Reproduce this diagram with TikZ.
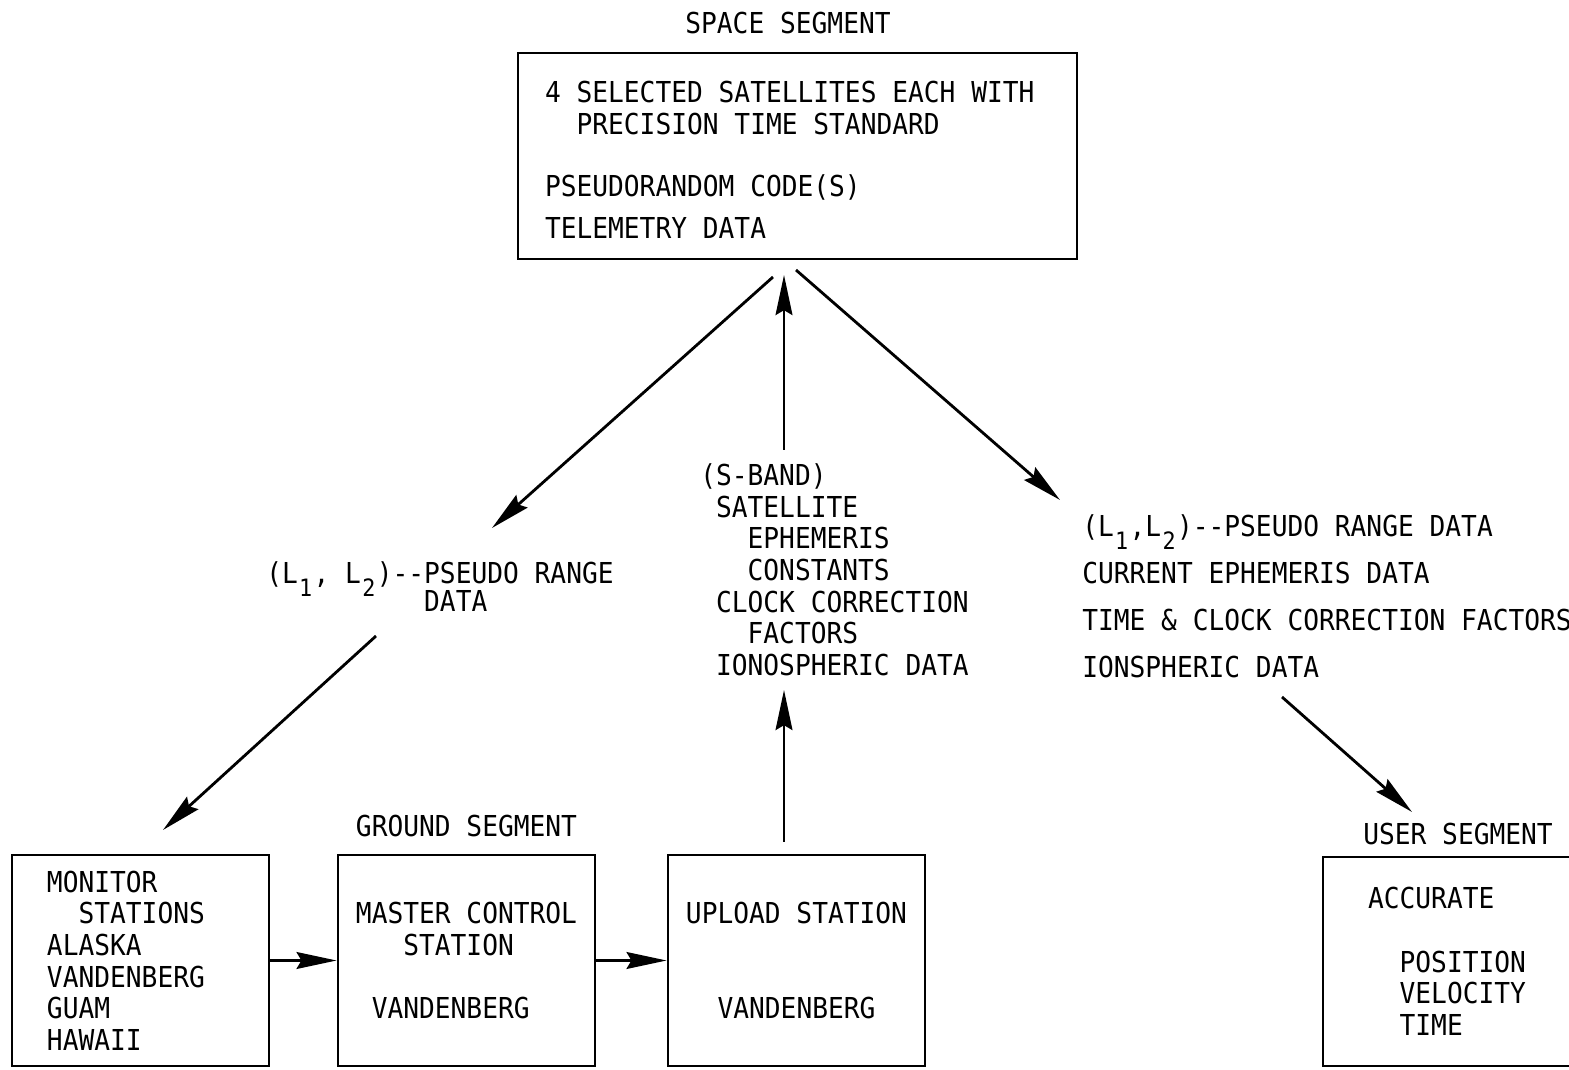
\documentclass[tikz,border=0pt]{standalone}
\usepackage{fontspec}
\setmainfont{DejaVu Sans Mono}[FakeStretch=0.91, WordSpace={1,0,0}]
\usepackage{tikz}
\usetikzlibrary{arrows.meta}

% lowered index that keeps the typewriter pitch
\newcommand{\lsub}[1]{\makebox[0.548em][c]{\raisebox{-0.45em}[0pt][0pt]{\fontsize{17}{17}\selectfont #1}}}

\tikzstyle{segment} = [rectangle, draw, line width=2pt, align=left,
    inner sep=0pt, minimum width=6.425cm, minimum height=5.275cm]
\tikzstyle{title} = [inner sep=0pt]
\tikzstyle{datalist} = [inner sep=0pt, align=left, anchor=north west]
\tikzstyle{line} = [draw, line width=2pt,
    -{Stealth[length=1cm, width=0.42cm, inset=0.12cm]}]

\begin{document}
\begin{tikzpicture}[node distance=8.15cm, font=\fontsize{20.5}{22.5}\selectfont]
    \clip (0,0) rectangle (39.225,26.725);

    % Segments
    \node [title] (spacetitle) at (19.7,26.15) {SPACE SEGMENT};
    \node [segment, align=flush left, minimum width=13.975cm, minimum height=5.15cm,
        inner xsep=0.675cm, text width=12.625cm] (space) at (19.9375,22.825)
        {\rule{0pt}{0.73cm}4 SELECTED SATELLITES EACH WITH\\ \phantom{00}PRECISION TIME STANDARD\\[0.7575cm]PSEUDORANDOM CODE(S)\\[0.2575cm]TELEMETRY DATA};

    \node [segment, inner xsep=0.875cm, text width=4.675cm] (monitor) at (3.5125,2.7125)
        {MONITOR\\ \phantom{00}STATIONS\\ ALASKA\\ VANDENBERG\\ GUAM\\ HAWAII};
    \node [segment, right of=monitor] (master)
        {MASTER CONTROL\\ \phantom{000}STATION\\[0.7925cm]\phantom{0}VANDENBERG};
    \node [segment, right of=master, node distance=8.25cm] (upload)
        {UPLOAD STATION\\[1.585cm]\phantom{00}VANDENBERG};
    \node [title, above of=master, node distance=3.3625cm] (groundtitle) {GROUND SEGMENT};

    \node [segment, minimum width=6.2cm, minimum height=5.225cm] (user) at (36.175,2.6875)
        {ACCURATE\\[0.7925cm]\phantom{00}POSITION\\ \phantom{00}VELOCITY\\ \phantom{00}TIME};
    \node [title] (usertitle) at (36.45,5.875) {USER SEGMENT};

    % Link data
    \node [datalist, font=\fontsize{20.5}{19.9}\selectfont] (pseudorange) at (6.65,12.6875)
        {(L\lsub{1}, L\lsub{2})-{}-PSEUDO RANGE\\ \phantom{0000000000}DATA};
    \node [datalist] (uplink) at (17.5,15.1375)
        {(S-BAND)\\ \phantom{0}SATELLITE\\ \phantom{000}EPHEMERIS\\ \phantom{000}CONSTANTS\\ \phantom{0}CLOCK CORRECTION\\ \phantom{000}FACTORS\\ \phantom{0}IONOSPHERIC DATA};
    \node [datalist, font=\fontsize{20.5}{33.4}\selectfont] (navdata) at (27.05,13.8625)
        {(L\lsub{1},L\lsub{2})-{}-PSEUDO RANGE DATA\\ CURRENT EPHEMERIS DATA\\ TIME \& CLOCK CORRECTION FACTORS\\ IONSPHERIC DATA};

    % Arrow ends
    \coordinate (downL) at (19.325,19.8);
    \coordinate (downLend) at (12.3,13.525);
    \coordinate (upS) at (19.6,15.475);
    \coordinate (upSend) at (19.6,19.85);
    \coordinate (downR) at (19.9,19.975);
    \coordinate (downRend) at (26.5,14.225);
    \coordinate (toMon) at (9.4,10.825);
    \coordinate (toMonend) at (4.075,5.975);
    \coordinate (fromUp) at (19.6,5.675);
    \coordinate (fromUpend) at (19.6,9.475);
    \coordinate (toUser) at (32.05,9.3);
    \coordinate (toUserend) at (35.3,6.425);

    % Edges
    \path [line] (downL) -- (downLend);
    \path [line] (upS) -- (upSend);
    \path [line] (downR) -- (downRend);
    \path [line] (toMon) -- (toMonend);
    \path [line] (fromUp) -- (fromUpend);
    \path [line] (toUser) -- (toUserend);
    \path [line] (monitor) -- (master);
    \path [line] (master) -- (upload);
\end{tikzpicture}
\end{document}
